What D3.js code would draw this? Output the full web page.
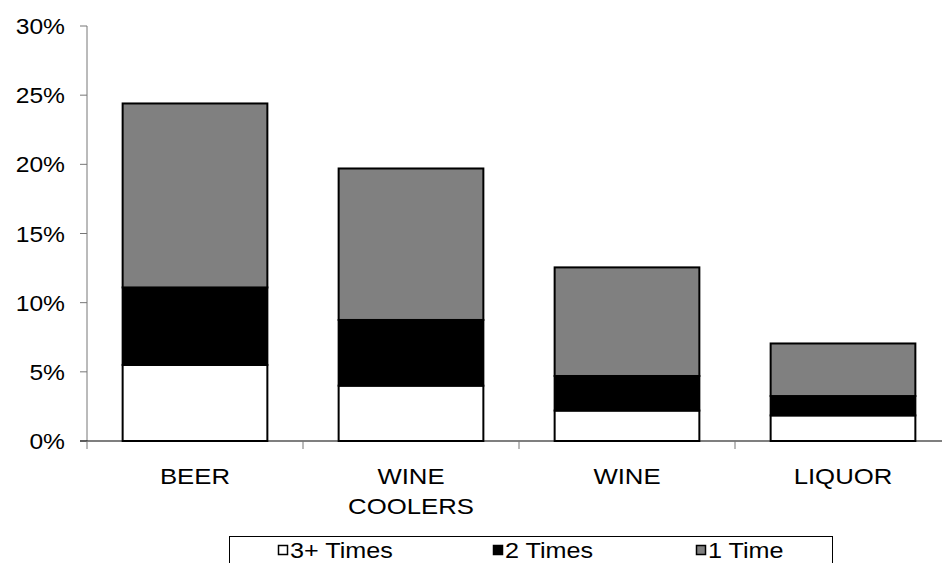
<!DOCTYPE html>
<html><head><meta charset="utf-8">
<script src="https://cdn.jsdelivr.net/npm/d3@7"></script>
<style>body{margin:0;background:#fff}svg{display:block}text{font-family:"Liberation Sans",Arial,sans-serif;fill:#000}</style>
</head><body>
<svg id="c" width="942" height="563"></svg>
<script>
const categories = [["BEER"], ["WINE", "COOLERS"], ["WINE"], ["LIQUOR"]];
const catKeys = ["BEER", "WINE COOLERS", "WINE", "LIQUOR"];
const seriesNames = ["3+ Times", "2 Times", "1 Time"];
const times3 = [5.5, 4.0, 2.2, 1.85];
const times2 = [5.6, 4.75, 2.5, 1.4];
const times1 = [13.3, 10.95, 7.85, 3.8];
const yTicks = [0, 5, 10, 15, 20, 25, 30];
const colors = ["#ffffff", "#000000", "#808080"];

const svg = d3.select("#c");
const x = d3.scaleBand().domain(catKeys).range([87, 951]).paddingInner(0.33).paddingOuter(0.165);
const y = d3.scaleLinear().domain([0, 30]).range([441, 26]);
const SX = 1.12;

// y axis
svg.append("line").attr("x1", 87).attr("x2", 87).attr("y1", y(30)).attr("y2", y(0)).attr("stroke", "#777").attr("stroke-width", 1);
yTicks.forEach(t => {
  svg.append("line").attr("x1", 80).attr("x2", 87).attr("y1", y(t)).attr("y2", y(t)).attr("stroke", "#777");
  svg.append("g").attr("transform", `translate(65,${y(t)+8}) scale(${SX},1)`)
    .append("text").attr("text-anchor", "end").style("font-size", "22px").text(t + "%");
});

// stacked data
const rows = catKeys.map((k, i) => ({key: k, "3+ Times": times3[i], "2 Times": times2[i], "1 Time": times1[i]}));
const stack = d3.stack().keys(seriesNames)(rows);
stack.forEach((s, si) => {
  svg.append("g").selectAll("rect").data(s).join("rect")
    .attr("x", d => x(d.data.key)).attr("width", x.bandwidth())
    .attr("y", d => y(d[1])).attr("height", d => y(d[0]) - y(d[1]))
    .attr("fill", colors[si]).attr("stroke", "#000").attr("stroke-width", 2);
});

// x axis
svg.append("line").attr("x1", 80).attr("x2", 942).attr("y1", y(0)).attr("y2", y(0)).attr("stroke", "#000").attr("stroke-width", 1.2);
catKeys.forEach((k, i) => {
  const bx = x(k) - x.step() * x.paddingInner() / 2;
  svg.append("line").attr("x1", bx).attr("x2", bx).attr("y1", y(0)).attr("y2", y(0) + 8).attr("stroke", "#777");
  const cx = x(k) + x.bandwidth() / 2;
  categories[i].forEach((line, li) => {
    svg.append("g").attr("transform", `translate(${cx},${484 + li * 30}) scale(${SX},1)`)
      .append("text").attr("text-anchor", "middle").style("font-size", "23px").text(line);
  });
});

// legend
svg.append("rect").attr("x", 229.5).attr("y", 536.5).attr("width", 603).attr("height", 40).attr("fill", "none").attr("stroke", "#000");
const legX = [278, 493, 696];
seriesNames.forEach((n, i) => {
  svg.append("rect").attr("x", legX[i] + 0.5).attr("y", 545.5).attr("width", 9).attr("height", 9)
    .attr("fill", colors[i]).attr("stroke", "#000").attr("stroke-width", 1.5);
  svg.append("g").attr("transform", `translate(${legX[i] + 12},558) scale(${SX},1)`)
    .append("text").style("font-size", "22.5px").text(n);
});
</script>
</body></html>
